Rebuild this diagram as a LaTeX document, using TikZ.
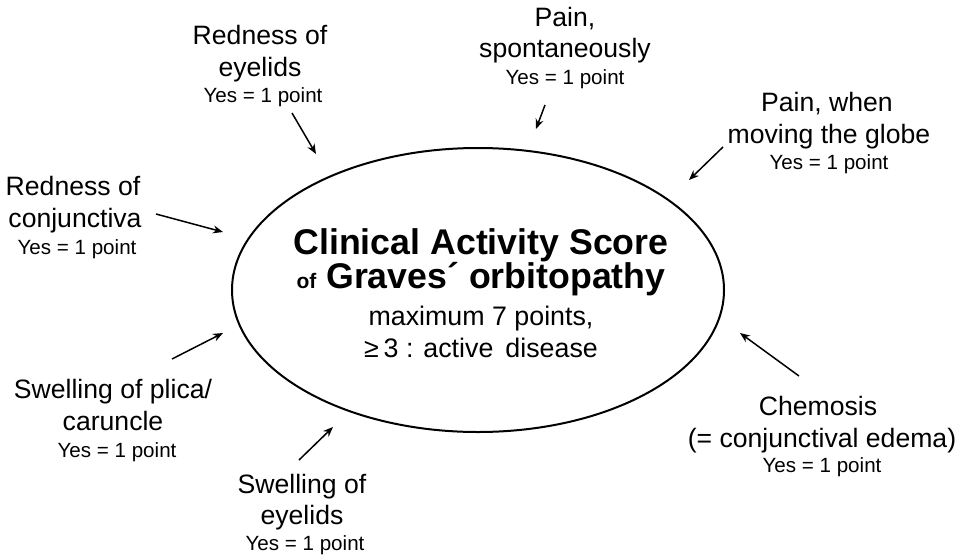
\documentclass[tikz,border=0pt]{standalone}
\usepackage{fontspec}
\setmainfont{Liberation Sans}
\usetikzlibrary{arrows.meta}
\tikzset{
  lbl/.style={anchor=base, inner sep=0pt, font=\fontsize{26.6}{30}\selectfont},
  yes/.style={anchor=base, inner sep=0pt, font=\fontsize{20.6}{24}\selectfont},
  ttl/.style={anchor=base, inner sep=0pt, font=\fontsize{35.7}{40}\selectfont\bfseries},
  sub/.style={anchor=base, inner sep=0pt, font=\fontsize{26.8}{32}\selectfont},
  arr/.style={-{Stealth[length=10pt,width=8pt]}, line width=1.5pt},
}
\begin{document}
\begin{tikzpicture}[x=1pt,y=-1pt]
\useasboundingbox (0,0) rectangle (962,560);
\draw[line width=2pt] (478,290) ellipse [x radius=246, y radius=142];
\node[ttl] (t1) at (481,254) {Clinical Activity Score};
\node[ttl] (t2) at (481,288) {{\fontsize{21}{24}\selectfont of} Graves´ orbitopathy};
\node[sub] (t3) at (481,325) {maximum 7 points,};
\node[sub] (t4) at (481,357) {≥\hspace{0.18em}3 : active\hspace{0.45em}disease};
% Redness of eyelids
\node[lbl] (a1) at (260,44) {Redness of};
\node[lbl] (a2) at (260,76) {eyelids};
\node[yes] (a3) at (263,102) {Yes = 1 point};
% Pain spontaneously
\node[lbl] (b1) at (565,26) {Pain,};
\node[lbl] (b2) at (565,57) {spontaneously};
\node[yes] (b3) at (565,84) {Yes = 1 point};
% Pain when moving
\node[lbl] (c1) at (827,111) {Pain, when};
\node[lbl] (c2) at (829,143) {moving the globe};
\node[yes] (c3) at (829,169) {Yes = 1 point};
% Redness of conjunctiva
\node[lbl] (d1) at (73,195) {Redness of};
\node[lbl] (d2) at (75,227) {conjunctiva};
\node[yes] (d3) at (77,254) {Yes = 1 point};
% Swelling of plica
\node[lbl] (e1) at (113,398) {Swelling of plica/};
\node[lbl] (e2) at (113,430) {caruncle};
\node[yes] (e3) at (117,457) {Yes = 1 point};
% Swelling of eyelids
\node[lbl] (f1) at (302,493) {Swelling of};
\node[lbl] (f2) at (302,524) {eyelids};
\node[yes] (f3) at (305,550) {Yes = 1 point};
% Chemosis
\node[lbl] (g1) at (818,415) {Chemosis};
\node[lbl] (g2) at (822,447) {(= conjunctival edema)};
\node[yes] (g3) at (822,472) {Yes = 1 point};
% arrow endpoints
\coordinate (pa1) at (292,113); \coordinate (pa2) at (316,154);
\coordinate (pb1) at (545,105); \coordinate (pb2) at (536,129);
\coordinate (pc1) at (723,147); \coordinate (pc2) at (689,180);
\coordinate (pd1) at (156,214); \coordinate (pd2) at (223,232);
\coordinate (pe1) at (172,359); \coordinate (pe2) at (223,333);
\coordinate (pf1) at (299,460); \coordinate (pf2) at (333,427);
\coordinate (pg1) at (799,376); \coordinate (pg2) at (740,333);
\draw[arr] (pa1) -- (pa2);
\draw[arr] (pb1) -- (pb2);
\draw[arr] (pc1) -- (pc2);
\draw[arr] (pd1) -- (pd2);
\draw[arr] (pe1) -- (pe2);
\draw[arr] (pf1) -- (pf2);
\draw[arr] (pg1) -- (pg2);
\end{tikzpicture}
\end{document}
